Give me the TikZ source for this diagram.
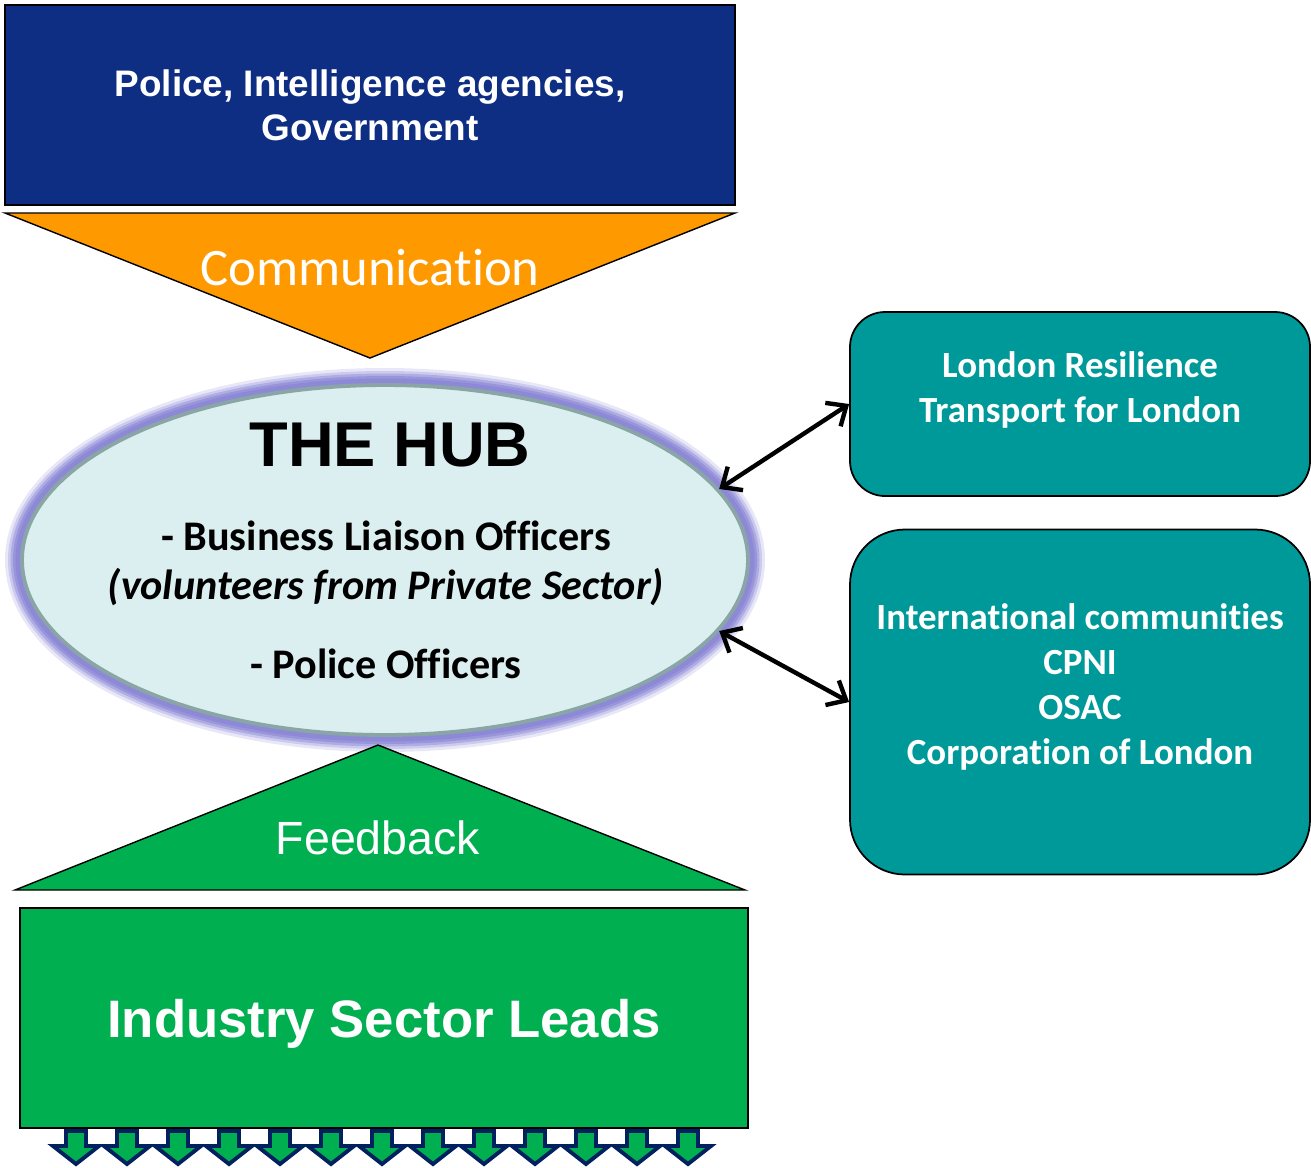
\documentclass[tikz,border=0pt]{standalone}
\usepackage{fontspec}
\setmainfont[Ligatures=NoCommon]{Carlito}
\newfontfamily\arialfont{Liberation Sans}
\usetikzlibrary{arrows.meta,shapes.geometric}

\definecolor{govblue}{RGB}{13,46,130}
\definecolor{commorange}{RGB}{255,153,0}
\definecolor{hubfill}{RGB}{219,238,240}
\definecolor{hubline}{RGB}{138,165,165}
\definecolor{hubglow}{RGB}{140,136,214}
\definecolor{leadgreen}{RGB}{0,176,80}
\definecolor{partnerteal}{RGB}{0,153,153}
\definecolor{downnavy}{RGB}{0,32,96}

\tikzset{>={Straight Barb[length=3.2mm,width=5.6mm]},
                 govbox/.style={draw, line width=1pt, fill=govblue, minimum width=146mm, minimum height=40mm,
                                text=white, align=center, font=\arialfont\bfseries\fontsize{21}{25}\selectfont},
                 leadbox/.style={draw, line width=1pt, fill=leadgreen, minimum width=145.6mm, minimum height=44mm,
                                text depth=0pt, text=white, font=\arialfont\bfseries\fontsize{30}{36}\selectfont},
                 tealbox/.style={draw, line width=1pt, fill=partnerteal, minimum width=92mm},
                 tealtext/.style={text=white, align=center, font=\bfseries\fontsize{21}{25.6}\selectfont},
                 hub/.style={ellipse, draw=hubline, line width=2.2pt, fill=hubfill, inner sep=0,
                                minimum width=145.2mm, minimum height=70mm},
                 hubtext/.style={font=\bfseries\fontsize{24}{28}\selectfont},
                 tri/.style={draw, line width=0.8pt},
                 biarrow/.style={<->, line width=2.5pt},
                 downarrow/.style={draw=downnavy, fill=leadgreen, line width=2.2pt, line join=miter}}

\begin{document}
\begin{tikzpicture}[x=0.2mm, y=-0.2mm]
            \useasboundingbox (0,0) rectangle (1311,1167);

            % top box and the communication wedge
            \node[govbox] at (370,105) (gov) {Police, Intelligence agencies,\\Government};
            \draw[tri, fill=commorange] (5,213) -- (735,213) -- (370,358) -- cycle;
            \node[text=white, font=\fontsize{30}{36}\selectfont] at (370,268) (comm) {Communication};

            % the hub
            \foreach \w/\o in {6.8mm/0.2, 5.6mm/0.3, 4.6mm/0.45, 3.6mm/0.65, 2.6mm/0.9}
                \draw[hubglow, line width=\w, opacity=\o] (385,560) ellipse (72.6mm and 35mm);
            \node[hub] at (385,560) (hub) {};
            \node[font=\arialfont\bfseries\fontsize{36}{40}\selectfont] at (390,445) (hubtitle) {THE HUB};
            \node[hubtext] at (386,536) (blo)  {- Business Liaison Officers};
            \node[hubtext] at (386,587) (vol)  {\itshape (volunteers from Private Sector)};
            \node[hubtext] at (386,664) (pol)  {- Police Officers};

            % feedback wedge and industry leads
            \draw[tri, fill=leadgreen] (15,890) -- (745,890) -- (378,745) -- cycle;
            \node[text=white, font=\arialfont\fontsize{26.5}{32}\selectfont] at (378,838) (feed) {Feedback};
            \node[leadbox] at (384,1018) (leads) {Industry Sector Leads};

            \foreach \i in {0,...,12}
                \draw[downarrow] ({66+51*\i},1131) -- ++(20,0) -- ++(0,15) -- ++(13,0)
                    -- ++(-23,18) -- ++(-23,-18) -- ++(13,0) -- cycle;

            % partners on the right
            \node[tealbox, minimum height=36.8mm, rounded corners=7mm] at (1080,404) (lr) {};
            \node[tealtext] at (1080,390) (lrtext) {London Resilience\\Transport for London};
            \node[tealbox, minimum height=69mm, rounded corners=11mm] at (1080,702) (ic) {};
            \node[tealtext] at (1080,687) (ictext) {International communities\\CPNI\\OSAC\\Corporation of London};

            \draw[biarrow] (hub.12) -- (lr.west);
            \draw[biarrow] (hub.-12) -- (ic.west);
        \end{tikzpicture}
\end{document}
